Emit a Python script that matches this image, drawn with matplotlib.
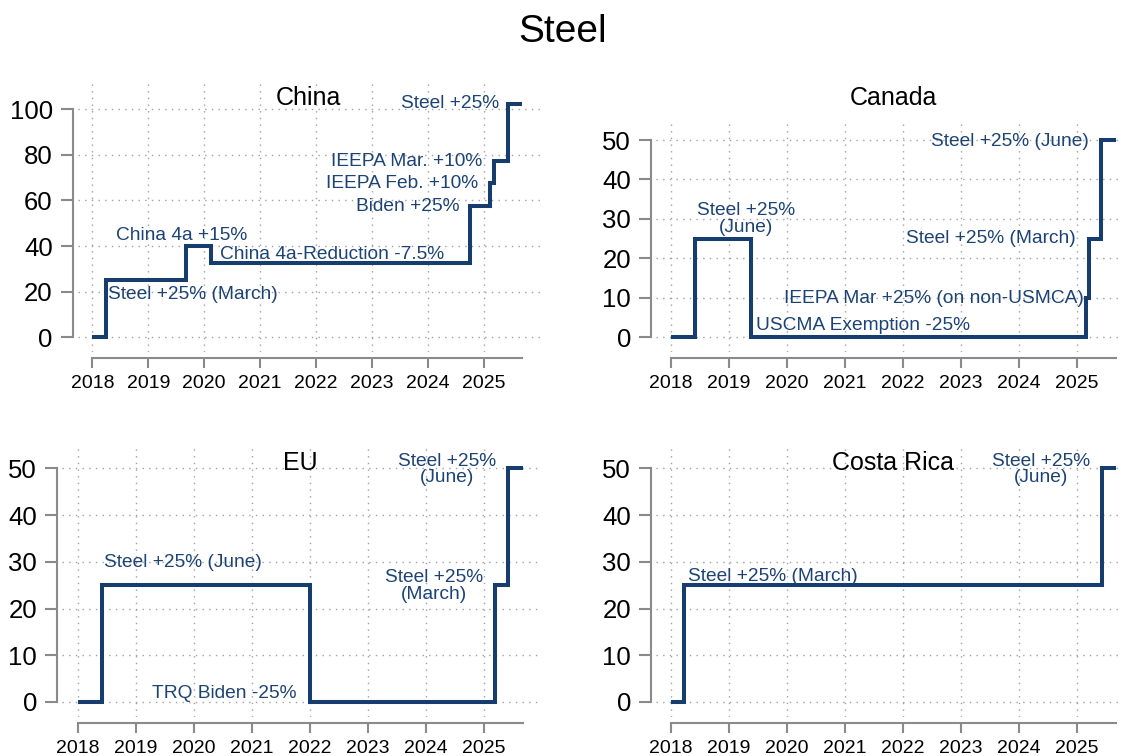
import matplotlib
matplotlib.use("Agg")
import matplotlib.pyplot as plt

plt.rcParams["font.family"] = ["Liberation Sans", "DejaVu Sans"]

LINE_COLOR = "#173c6e"
TEXT_COLOR = "#1c4375"
SPINE_COLOR = "#8a8a8a"
GRID_COLOR = "#a0a0a0"

# Tariff rate (%) on steel, as step changes in decimal years
china_dates = [2018.0, 2018.24, 2019.67, 2020.12, 2024.74, 2025.10, 2025.18, 2025.43, 2025.67]
china_rates = [0, 25, 40, 32.5, 57.5, 67.5, 77.5, 102.5, 102.5]

canada_dates = [2018.0, 2018.42, 2019.38, 2025.16, 2025.20, 2025.42, 2025.67]
canada_rates = [0, 25, 0, 10, 25, 50, 50]

eu_dates = [2018.0, 2018.42, 2022.0, 2025.20, 2025.42, 2025.67]
eu_rates = [0, 25, 0, 25, 50, 50]

costa_rica_dates = [2018.0, 2018.22, 2025.43, 2025.67]
costa_rica_rates = [0, 25, 50, 50]

year_ticks = [2018, 2019, 2020, 2021, 2022, 2023, 2024, 2025]

# Event labels: (text, x, y, horizontal alignment)
china_notes = [
    ("Steel +25%", 2025.26, 102.3, "right"),
    ("IEEPA Mar. +10%", 2024.97, 77.3, "right"),
    ("IEEPA Feb. +10%", 2024.90, 67.5, "right"),
    ("Biden +25%", 2024.56, 57.3, "right"),
    ("China 4a +15%", 2019.60, 44.6, "center"),
    ("China 4a-Reduction -7.5%", 2020.275, 36.1, "left"),
    ("Steel +25% (March)", 2018.29, 18.9, "left"),
]
canada_notes = [
    ("Steel +25% (June)", 2025.21, 49.7, "right"),
    ("Steel +25%\n(June)", 2019.30, 30.0, "center"),
    ("Steel +25% (March)", 2024.97, 25.1, "right"),
    ("IEEPA Mar +25% (on non-USMCA)", 2025.12, 9.9, "right"),
    ("USCMA Exemption -25%", 2019.47, 2.9, "left"),
]
eu_notes = [
    ("Steel +25%\n(June)", 2024.37, 49.8, "center"),
    ("Steel +25% (June)", 2019.82, 29.8, "center"),
    ("Steel +25%\n(March)", 2024.14, 24.8, "center"),
    ("TRQ Biden -25%", 2021.77, 1.8, "right"),
]
costa_rica_notes = [
    ("Steel +25%\n(June)", 2024.38, 49.8, "center"),
    ("Steel +25% (March)", 2018.29, 26.8, "left"),
]

panels = [
    # name, dates, rates, notes, y ticks, axes rect, xlim, ylim, title position
    ("China", china_dates, china_rates, china_notes, [0, 20, 40, 60, 80, 100],
     [0.0695, 0.5344, 0.4144, 0.3558], (2017.745, 2026.05), (-6.45, 111.5), (308, 98)),
    ("Canada", canada_dates, canada_rates, canada_notes, [0, 10, 20, 30, 40, 50],
     [0.5847, 0.5344, 0.4153, 0.3046], (2017.741, 2025.776), (-3.73, 54.64), (893, 98)),
    ("EU", eu_dates, eu_rates, eu_notes, [0, 10, 20, 30, 40, 50],
     [0.0553, 0.0520, 0.4275, 0.3567], (2017.729, 2026.0), (-3.15, 54.56), (300, 463)),
    ("Costa Rica", costa_rica_dates, costa_rica_rates, costa_rica_notes, [0, 10, 20, 30, 40, 50],
     [0.5847, 0.0520, 0.4153, 0.3567], (2017.741, 2025.776), (-3.15, 54.56), (893, 463)),
]

W, H = 1122, 756
fig = plt.figure(figsize=(W / 100, H / 100), dpi=100)
fig.text(563 / W, 1 - 32 / H, "Steel", ha="center", va="center", fontsize=28, color="black")

for name, dates, rates, notes, yticks, rect, xlim, ylim, tpos in panels:
    ax = fig.add_axes(rect)
    ax.set_xlim(*xlim)
    ax.set_ylim(*ylim)
    ax.patch.set_alpha(0)

    # dotted grid at every tick
    for yv in yticks:
        ax.axhline(yv, color=GRID_COLOR, lw=1.0, ls=(0, (1, 3.8)), zorder=1)
    for xv in year_ticks:
        ax.axvline(xv, color=GRID_COLOR, lw=1.0, ls=(0, (1, 3.8)), zorder=1)

    ax.step(dates, rates, where="post", color=LINE_COLOR, lw=2.9,
            solid_joinstyle="miter", solid_capstyle="butt", zorder=3)

    for text, x, y, ha in notes:
        ax.text(x, y, text, ha=ha, va="center", fontsize=13.8, color=TEXT_COLOR,
                linespacing=0.95, zorder=4)

    for side in ("top", "right"):
        ax.spines[side].set_visible(False)
    ax.spines["left"].set_position(("outward", 3.6))
    ax.spines["bottom"].set_position(("outward", 4.3))
    ax.spines["left"].set_bounds(yticks[0], yticks[-1])
    ax.spines["bottom"].set_bounds(2018, dates[-1])
    for side in ("left", "bottom"):
        ax.spines[side].set_color(SPINE_COLOR)
        ax.spines[side].set_linewidth(1.5)

    ax.set_yticks(yticks)
    ax.set_xticks(year_ticks)
    ax.tick_params(axis="y", length=9, width=1.5, color=SPINE_COLOR, pad=5.5,
                   labelsize=18.5, labelcolor="black")
    ax.tick_params(axis="x", length=7.2, width=1.5, color=SPINE_COLOR, pad=5,
                   labelsize=14, labelcolor="black")

    fig.text(tpos[0] / W, 1 - tpos[1] / H, name, ha="center", va="center",
             fontsize=18, color="black")

fig.savefig("out.png", dpi=100)
